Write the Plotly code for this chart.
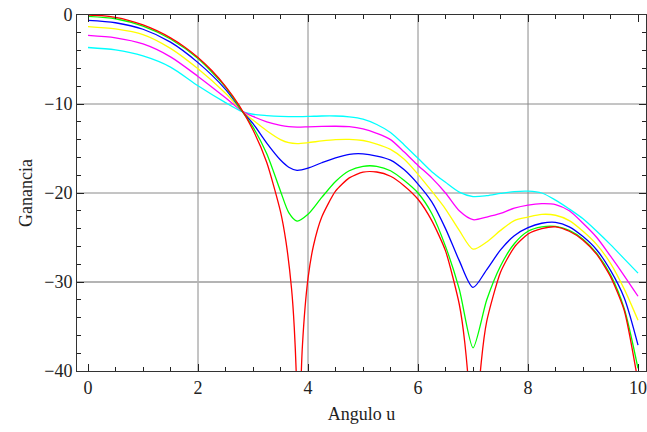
import plotly.graph_objects as go

# ---- data ----
u_red = [0, 0.25, 0.5, 0.75, 1, 1.25, 1.5, 1.75, 2, 2.25, 2.5, 2.75, 3, 3.25, 3.5, 3.6, 3.7, 3.75,
         3.8, 3.83, 3.86, 3.9, 4.0, 4.1, 4.25, 4.5, 4.75, 5, 5.25, 5.5, 5.75, 6, 6.25, 6.5, 6.75,
         6.85, 6.95, 7.015, 7.08, 7.15, 7.25, 7.5, 7.75, 8, 8.25, 8.5, 8.75, 9, 9.25, 9.5, 9.75, 10]
g_red = [0, -0.07, -0.27, -0.62, -1.11, -1.76, -2.57, -3.57, -4.78, -6.24, -8.01, -10.18, -12.92,
         -16.57, -22.1, -25.5, -30.7, -35.1, -43.4, -80, -44.6, -37.0, -29.6, -25.9, -22.7, -19.8,
         -18.3, -17.65, -17.64, -18.12, -19.2, -20.7, -23.1, -26.5, -32.5, -36.8, -44.9, -80, -45.3,
         -39.0, -34.4, -28.9, -26.1, -24.6, -24.0, -23.8, -24.3, -25.3, -26.9, -29.4, -33.2, -41.2]

u_def = [0, 0.5, 1, 1.5, 2, 2.5, 2.8, 3.0, 3.25, 3.5, 3.65, 3.8, 4.0, 4.25, 4.5, 4.75, 5.0, 5.25,
         5.5, 5.75, 6.0, 6.25, 6.5, 6.75, 7.0, 7.25, 7.5, 7.75, 8.0, 8.25, 8.5, 8.75, 9.0, 9.25,
         9.5, 9.75, 10]

g_green = [-0.15, -0.42, -1.26, -2.7, -4.9, -8.1, -10.8, -12.6, -15.6, -19.8, -22.2, -23.15, -22.4,
           -20.5, -18.7, -17.5, -17.0, -17.0, -17.5, -18.6, -20.0, -22.3, -26.0, -30.8, -37.4,
           -32.0, -28.2, -25.7, -24.3, -23.8, -23.75, -24.2, -25.2, -26.8, -29.2, -33.0, -39.7]

g_blue = [-0.6, -0.87, -1.6, -3.05, -5.35, -8.35, -10.8, -12.2, -14.4, -16.3, -17.1, -17.45, -17.2,
          -16.6, -16.05, -15.65, -15.6, -15.85, -16.3, -17.4, -19.0, -21.0, -24.0, -27.6, -30.6,
          -28.6, -26.4, -24.8, -23.9, -23.4, -23.3, -23.8, -24.9, -26.4, -28.7, -31.8, -37.1]

g_yellow = [-1.3, -1.57, -2.2, -3.75, -6.05, -8.8, -10.8, -11.8, -13.0, -14.0, -14.35, -14.45,
            -14.35, -14.15, -14.0, -13.97, -14.1, -14.5, -15.1, -16.2, -17.9, -19.8, -21.8, -24.2,
            -26.3, -25.5, -24.2, -23.1, -22.7, -22.4, -22.5, -23.1, -24.3, -25.8, -27.9, -30.8, -34.3]

g_magenta = [-2.3, -2.57, -3.25, -4.7, -6.9, -9.3, -10.8, -11.4, -12.0, -12.4, -12.55, -12.6,
             -12.57, -12.52, -12.5, -12.55, -12.8, -13.3, -14.0, -15.4, -16.9, -18.3, -20.0, -22.0,
             -23.0, -22.7, -22.3, -21.7, -21.35, -21.2, -21.3, -22.0, -23.4, -25.0, -27.1, -29.3, -31.6]

g_cyan = [-3.65, -3.92, -4.6, -5.85, -7.95, -9.85, -10.85, -11.15, -11.3, -11.4, -11.42, -11.42, -11.4,
          -11.35, -11.35, -11.45, -11.7, -12.3, -13.2, -14.6, -16.1, -17.6, -18.8, -19.9, -20.4,
          -20.3, -20.05, -19.85, -19.8, -20.0, -20.8, -21.8, -22.9, -24.3, -25.8, -27.4, -29.0]

x_ticks = [0, 2, 4, 6, 8, 10]
y_ticks = [0, -10, -20, -30, -40]
x_grid = [2, 4, 6, 8]
y_grid = [-10, -20, -30]

series = [
    ("cyan", u_def, g_cyan, "#00FFFF", 0.8),
    ("magenta", u_def, g_magenta, "#FF00FF", 0.8),
    ("yellow", u_def, g_yellow, "#FFFF00", 0.8),
    ("blue", u_def, g_blue, "#0000FF", 0.8),
    ("green", u_def, g_green, "#00FF00", 0.7),
    ("red", u_red, g_red, "#FF0000", 0.6),
]

fig = go.Figure()
for name, xs, ys, col, sm in series:
    fig.add_trace(go.Scatter(x=xs, y=ys, mode="lines", name=name,
                             line=dict(color=col, width=1.3, shape="spline", smoothing=sm)))

shapes = []
for xv in x_grid:
    shapes.append(dict(type="line", xref="x", yref="paper", x0=xv, x1=xv, y0=0, y1=1,
                       line=dict(color="#8a8a8a", width=1), layer="below"))
for yv in y_grid:
    shapes.append(dict(type="line", xref="paper", yref="y", x0=0, x1=1, y0=yv, y1=yv,
                       line=dict(color="#8a8a8a" if yv != -30 else "#b4b4b4",
                                 width=1 if yv != -30 else 2), layer="below"))

font = "Liberation Serif, Times New Roman, serif"
fig.update_layout(
    width=647, height=432,
    margin=dict(l=77, r=1, t=15, b=61, autoexpand=False),
    paper_bgcolor="white", plot_bgcolor="white",
    showlegend=False,
    shapes=shapes,
    font=dict(family=font, size=18, color="#222"),
    xaxis=dict(range=[-0.2, 10.145], tickvals=x_ticks, ticktext=[str(v) for v in x_ticks],
               automargin=False, ticklabeloverflow="allow",
               showgrid=False, zeroline=False, showline=True, linecolor="#333", linewidth=1,
               mirror="allticks", ticks="inside", ticklen=7, tickcolor="#222",
               minor=dict(dtick=0.5, ticks="inside", ticklen=4, tickcolor="#222", showgrid=False),
               title=dict(text="Angulo u", font=dict(size=18), standoff=10)),
    yaxis=dict(range=[-40, 0], tickvals=y_ticks, ticktext=["0", "\u221210", "\u221220", "\u221230", "\u221240"],
               automargin=False, ticklabeloverflow="allow",
               showgrid=False, zeroline=False, showline=True, linecolor="#333", linewidth=1,
               mirror="allticks", ticks="inside", ticklen=7, tickcolor="#222",
               minor=dict(dtick=2, ticks="inside", ticklen=4, tickcolor="#222", showgrid=False),
               title=dict(text="Ganancia", font=dict(size=18), standoff=6)),
)

fig.write_html("out.html", config={"displayModeBar": False},
               post_script="document.body.style.margin='0';document.body.style.padding='0';")
